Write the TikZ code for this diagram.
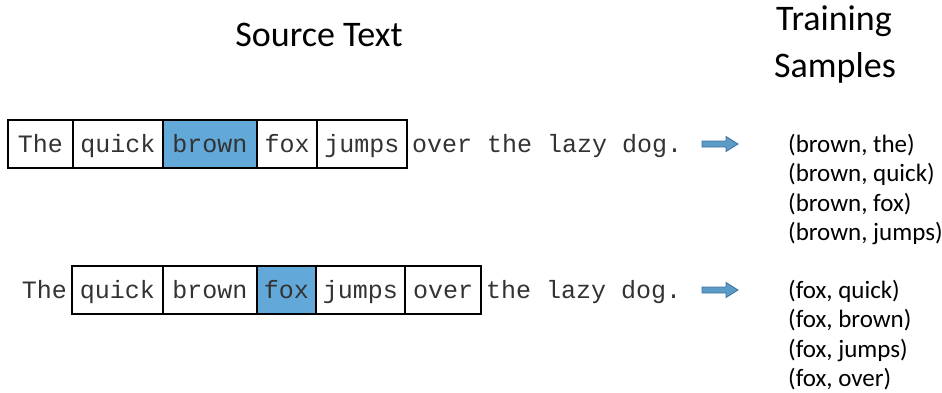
\documentclass[tikz,border=0pt]{standalone}
\usepackage{fontspec}
\setmainfont{Carlito}
\newfontfamily\monofont{Liberation Mono}
\usetikzlibrary{arrows.meta,positioning}
\definecolor{targetblue}{HTML}{62A8D8}
\definecolor{arrowfill}{HTML}{5B9BC8}
\definecolor{arrowedge}{HTML}{41719C}

\begin{document}
\begin{tikzpicture}[
  x=1pt,
  y=-1pt,
  line join=miter,
  wordbox/.style={draw=black,line width=1.3pt,anchor=west,minimum height=48pt,
    inner sep=0pt,outer sep=0pt,text=black!80,
    font=\monofont\fontsize{25}{25}\selectfont,text height=18pt,text depth=1pt},
  target/.style={wordbox,fill=targetblue},
  looseword/.style={inner sep=0pt,outer sep=0pt,text=black!80,
    font=\monofont\fontsize{25}{25}\selectfont,text height=18pt,text depth=1pt},
  sample/.style={anchor=base west,inner sep=0pt,font=\fontsize{25}{25}\selectfont},
  heading/.style={inner sep=0pt,font=\fontsize{36}{36}\selectfont},
  blockarrow/.style={fill=arrowfill,draw=arrowedge,line width=0.8pt}
]
  \useasboundingbox (0,0) rectangle (942,392);

  % Headings.
  \node[heading,anchor=base] (srchead) at (319,46) {Source Text};
  \node[heading,anchor=base west] (trainhead) at (776,30) {Training};
  \node[heading,anchor=base west] (samplehead) at (774,77) {Samples};

  % First window, centre word "brown".
  \node[wordbox,minimum width=65pt] (r1the) at (8,144) {The};
  \node[wordbox,minimum width=90pt] (r1quick) at (r1the.east) {quick};
  \node[target,minimum width=94pt] (r1brown) at (r1quick.east) {brown};
  \node[wordbox,minimum width=60pt] (r1fox) at (r1brown.east) {fox};
  \node[wordbox,minimum width=90pt] (r1jumps) at (r1fox.east) {jumps};
  \node[looseword,right=5pt of r1jumps] (r1rest) {over the lazy dog.};

  % Second window, centre word "fox".
  \node[wordbox,minimum width=91pt] (r2quick) at (72,290) {quick};
  \node[looseword,left=5pt of r2quick] (r2the) {The};
  \node[wordbox,minimum width=94pt] (r2brown) at (r2quick.east) {brown};
  \node[target,minimum width=59pt] (r2fox) at (r2brown.east) {fox};
  \node[wordbox,minimum width=89pt] (r2jumps) at (r2fox.east) {jumps};
  \node[wordbox,minimum width=76pt] (r2over) at (r2jumps.east) {over};
  \node[looseword,right=5pt of r2over] (r2rest) {the lazy dog.};

  % Arrows towards the sample lists.
  \coordinate (r1arrow) at (702,144);
  \coordinate (r2arrow) at (702,290);
  \foreach \a in {r1arrow,r2arrow} {
    \path[blockarrow] (\a) ++(0,-3) -- ++(24,0) -- ++(0,-4.5) -- ++(12,7.5)
      -- ++(-12,7.5) -- ++(0,-4.5) -- ++(-24,0) -- cycle;
  }

  % Training pairs.
  \foreach \pair [count=\i] in {{(brown, the)},{(brown, quick)},{(brown, fox)},{(brown, jumps)}} {
    \node[sample] (s1\i) at (788,122.5+29.5*\i) {\pair};
  }
  \foreach \pair [count=\i] in {{(fox, quick)},{(fox, brown)},{(fox, jumps)},{(fox, over)}} {
    \node[sample] (s2\i) at (788,268.5+29.5*\i) {\pair};
  }
\end{tikzpicture}
\end{document}
